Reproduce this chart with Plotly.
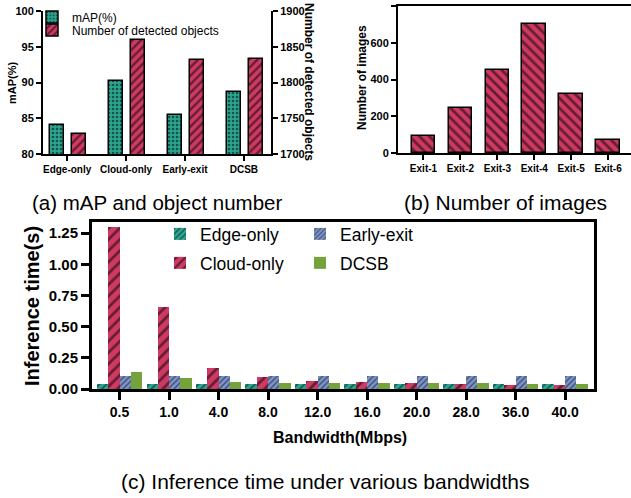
import plotly.graph_objects as go

# ---------------- data ----------------
methods_a = ["Edge-only", "Cloud-only", "Early-exit", "DCSB"]
map_vals = [84.1, 90.2, 85.4, 88.7]
obj_vals = [1728, 1860, 1832, 1833]

exits = ["Exit-1", "Exit-2", "Exit-3", "Exit-4", "Exit-5", "Exit-6"]
img_counts = [92, 247, 452, 702, 320, 72]

bandwidths = ["0.5", "1.0", "4.0", "8.0", "12.0", "16.0", "20.0", "28.0", "36.0", "40.0"]
t_edge = [0.037, 0.037, 0.037, 0.037, 0.037, 0.037, 0.037, 0.037, 0.037, 0.037]
t_cloud = [1.296, 0.655, 0.172, 0.095, 0.063, 0.055, 0.047, 0.038, 0.030, 0.030]
t_early = [0.108, 0.108, 0.108, 0.108, 0.108, 0.108, 0.108, 0.108, 0.108, 0.108]
t_dcsb = [0.135, 0.086, 0.055, 0.046, 0.046, 0.046, 0.046, 0.046, 0.040, 0.040]

# ---------------- styling ----------------
W, H = 631, 498
TEAL = "#2BA58F"
RED = "#CE3A63"
BLUE = "#7B93C9"
GREEN = "#74A33B"
FONT = "Liberation Sans, Arial, sans-serif"


def px_x(p):
    return p / W


def px_y(p):
    return 1 - p / H


fig = go.Figure()

# ----- panel (a) -----
fig.add_trace(go.Bar(
    x=methods_a, y=map_vals, name="mAP(%)", xaxis="x", yaxis="y",
    width=0.237, offset=-0.288,
    marker=dict(color=TEAL, line=dict(color="black", width=1.5),
                pattern=dict(shape=".", fgcolor="black", bgcolor=TEAL, size=4, solidity=0.35)),
    legend="legend",
))
fig.add_trace(go.Bar(
    x=methods_a, y=obj_vals, name="Number of detected objects", xaxis="x", yaxis="y2",
    width=0.237, offset=0.085,
    marker=dict(color=RED, line=dict(color="black", width=1.5),
                pattern=dict(shape="/", fgcolor="black", bgcolor=RED, size=6, solidity=0.4)),
    legend="legend2",
))

# ----- panel (b) -----
fig.add_trace(go.Bar(
    x=exits, y=img_counts, name="images", xaxis="x2", yaxis="y3",
    width=0.64, offset=-0.32, showlegend=False,
    marker=dict(color=RED, line=dict(color="black", width=1.5),
                pattern=dict(shape="\\", fgcolor="black", bgcolor=RED, size=7, solidity=0.4)),
))

# ----- panel (c) -----
series_c = [
    ("Edge-only", t_edge, TEAL, "/", 5, 0.3, -0.456, "legend3"),
    ("Cloud-only", t_cloud, RED, "/", 8, 0.35, -0.228, "legend4"),
    ("Early-exit", t_early, BLUE, "/", 4, 0.3, 0.0, "legend5"),
    ("DCSB", t_dcsb, GREEN, "", 8, 0.3, 0.228, "legend6"),
]
for name, vals, col, shp, sz, sol, off, lg in series_c:
    fig.add_trace(go.Bar(
        x=bandwidths, y=vals, name=name, xaxis="x3", yaxis="y4",
        width=0.228, offset=off,
        marker=dict(color=col, line=dict(width=0),
                    pattern=dict(shape=shp, fgcolor="black", bgcolor=col, size=sz, solidity=sol)),
        legend=lg,
    ))

tickfont_a = dict(family=FONT, size=10, color="black", weight="bold")
ytickfont_a = dict(family=FONT, size=11, color="black", weight="bold")

axis_common = dict(showline=True, linecolor="black", ticks="outside", tickcolor="black",
                   showgrid=False, zeroline=False, automargin=False)

fig.update_layout(
    width=W, height=H, margin=dict(l=0, r=0, t=0, b=0, autoexpand=False),
    paper_bgcolor="white", plot_bgcolor="white",
    barmode="overlay", bargap=0,
    font=dict(family=FONT, color="black"),
    xaxis=dict(domain=[px_x(43), px_x(271)], anchor="y", range=[-0.41, 3.46],
               type="category", linewidth=2, tickwidth=2, ticklen=5, tickfont=tickfont_a,
               **axis_common),
    yaxis=dict(domain=[px_y(154), px_y(11)], anchor="x", range=[80, 100], dtick=5,
               linewidth=2, tickwidth=2, ticklen=5, tickfont=ytickfont_a, **axis_common),
    yaxis2=dict(overlaying="y", side="right", anchor="x", range=[1700, 1900], dtick=50,
                linewidth=2, tickwidth=2, ticklen=5, tickfont=ytickfont_a, **axis_common),
    xaxis2=dict(domain=[px_x(398), 1.0], anchor="y3", range=[-0.69, 5.62], type="category",
                linewidth=2, tickwidth=2, ticklen=5, tickfont=tickfont_a, mirror=True,
                **axis_common),
    yaxis3=dict(domain=[px_y(153), px_y(6)], anchor="x2", range=[0, 800], dtick=200,
                linewidth=2, tickwidth=2, ticklen=5, tickfont=ytickfont_a, **axis_common),
    xaxis3=dict(domain=[px_x(92), px_x(594)], anchor="y4", range=[-0.557, 9.585],
                type="category", linewidth=3, tickwidth=3, ticklen=8, mirror=True,
                tickfont=dict(family=FONT, size=14, color="black", weight="bold"),
                **axis_common),
    yaxis4=dict(domain=[px_y(389), px_y(222)], anchor="x3", range=[0, 1.339], dtick=0.25,
                tickformat=".2f", linewidth=3, tickwidth=3, ticklen=8, mirror=True,
                tickfont=dict(family=FONT, size=15, color="black", weight="bold"),
                **axis_common),
)

leg_a_font = dict(family=FONT, size=12, color="black")
leg_c_font = dict(family=FONT, size=17.5, color="black")
legend_base = dict(xref="paper", yref="paper", xanchor="left", yanchor="middle",
                   bgcolor="rgba(0,0,0,0)", borderwidth=0)
fig.update_layout(
    legend=dict(x=px_x(32), y=px_y(17), font=leg_a_font, **legend_base),
    legend2=dict(x=px_x(32), y=px_y(30), font=leg_a_font, **legend_base),
    legend3=dict(x=px_x(160), y=px_y(234), font=leg_c_font, **legend_base),
    legend4=dict(x=px_x(160), y=px_y(263), font=leg_c_font, **legend_base),
    legend5=dict(x=px_x(300), y=px_y(234), font=leg_c_font, **legend_base),
    legend6=dict(x=px_x(300), y=px_y(263), font=leg_c_font, **legend_base),
)

bold = lambda s: dict(family=FONT, size=s, color="black", weight="bold")
annotations = [
    dict(text="mAP(%)", x=px_x(12), y=px_y(83), textangle=-90, font=bold(11)),
    dict(text="Number of detected objects", x=px_x(309), y=px_y(82), textangle=90, font=bold(12)),
    dict(text="Number of images", x=px_x(362), y=px_y(78), textangle=-90, font=bold(12)),
    dict(text="Inference time(s)", x=px_x(32), y=px_y(306), textangle=-90, font=bold(20)),
    dict(text="Bandwidth(Mbps)", x=px_x(340), y=px_y(437), font=bold(16)),
    dict(text="(a) mAP and object number", x=px_x(157), y=px_y(203),
         font=dict(family=FONT, size=20.5, color="black")),
    dict(text="(b) Number of images", x=px_x(505), y=px_y(203),
         font=dict(family=FONT, size=21, color="black")),
    dict(text="(c) Inference time under various bandwidths", x=px_x(325), y=px_y(481),
         font=dict(family=FONT, size=21, color="black")),
]
for a in annotations:
    a.update(xref="paper", yref="paper", showarrow=False, xanchor="center", yanchor="middle")
fig.update_layout(annotations=annotations)

fig.write_html(
    "out.html",
    config={"displayModeBar": False},
    post_script="document.body.style.margin='0';document.body.style.padding='0';",
)
